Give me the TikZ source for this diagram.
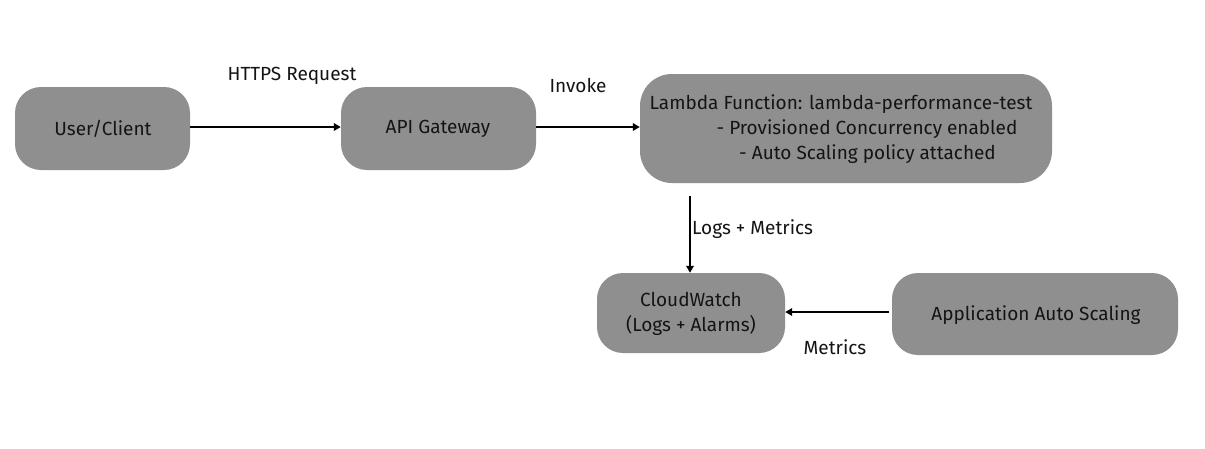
\documentclass[tikz,border=0pt]{standalone}
\usepackage{fontspec}
\setmainfont{Fira Sans}
\usetikzlibrary{arrows.meta}
\definecolor{boxgray}{RGB}{143,143,143}
\definecolor{txt}{RGB}{20,20,20}
\tikzset{
  box/.style={fill=boxgray, rounded corners=26pt, draw=none, inner sep=0pt},
  lbl/.style={font=\fontsize{19}{24.5}\selectfont, text=txt, inner sep=0pt},
  conn/.style={line width=2.5pt, -{Triangle[length=7pt,width=7.5pt]}}
}
\begin{document}
\begin{tikzpicture}[x=1pt,y=-1pt]
\useasboundingbox[fill=white] (0,0) rectangle (1205,448);
% boxes
\node[box, minimum width=175pt, minimum height=83pt] (user) at (102.5,128.5) {};
\node[box, minimum width=195pt, minimum height=83pt] (api) at (438.5,128.5) {};
\node[box, minimum width=412pt, minimum height=109pt, rounded corners=32pt] (lambda) at (846,128.5) {};
\node[box, minimum width=188pt, minimum height=80pt] (cw) at (691,313) {};
\node[box, minimum width=286pt, minimum height=82pt] (aas) at (1035,314) {};
% box texts
\node[lbl] (usert) at (103,128.5) {User/Client};
\node[lbl] (apit) at (438,128.5) {API Gateway};
\node[lbl] (l1) at (841,104.5) {Lambda Function: lambda-performance-test};
\node[lbl] (l2) at (867,129.5) {- Provisioned Concurrency enabled};
\node[lbl] (l3) at (867.5,154.5) {- Auto Scaling policy attached};
\node[lbl, align=center] (cwt) at (691,314) {CloudWatch\\(Logs + Alarms)};
\node[lbl] (aast) at (1036,315.5) {Application Auto Scaling};
% connectors
\coordinate (lbot) at (690,196);
\coordinate (aasl) at (889,312);
\draw[conn] (user.east |- 0,127) -- (api.west |- 0,127);
\draw[conn] (api.east |- 0,127) -- (lambda.west |- 0,127);
\draw[conn] (lbot) -- (lbot |- cw.north);
\draw[conn] (aasl) -- (cw.east |- aasl);
% edge labels
\node[lbl] (https) at (292,76) {HTTPS Request};
\node[lbl] (inv) at (578,85) {Invoke};
\node[lbl, anchor=west] (lm) at (692,229) {Logs + Metrics};
\node[lbl] (met) at (835,347) {Metrics};
\end{tikzpicture}
\end{document}
